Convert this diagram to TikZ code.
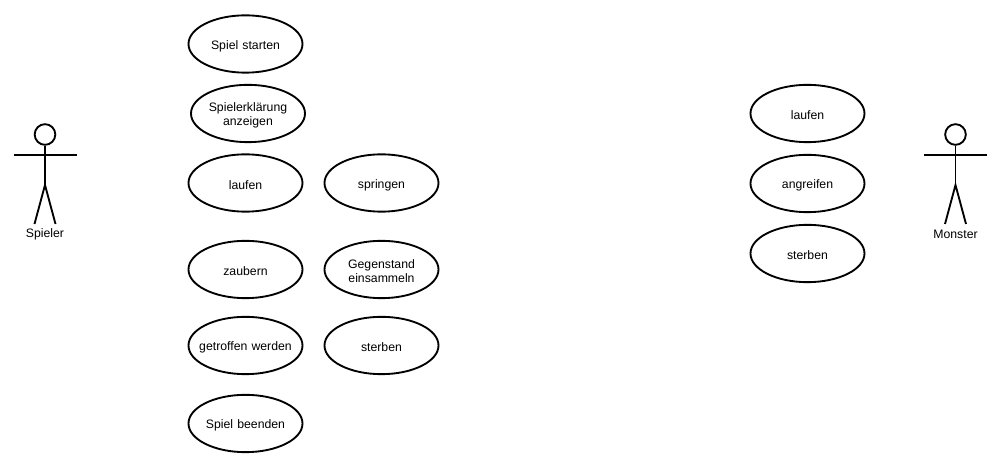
\documentclass[tikz,border=0pt]{standalone}
\usepackage{fontspec}
\setmainfont{Liberation Sans}
\usetikzlibrary{shapes.geometric}
\tikzset{
    usecase/.style={draw, ellipse, line width=1.4pt, minimum width=85.5pt, minimum height=43pt, inner xsep=-12pt, inner ysep=0pt, text width=80pt, align=center, font=\fontsize{9.2}{10.5}\selectfont, execute at begin node={\vskip -0.9pt\relax}},
    actorhead/.style={draw, circle, line width=1.4pt, minimum size=15.5pt, inner sep=0pt},
    actorline/.style={line width=1.4pt},
    actorname/.style={font=\fontsize{9.2}{10.5}\selectfont}
}
% stick figure: name, x of the body, text
\newcommand{\actorfigure}[3]{
    \node[actorhead] (#1Head) at (#2,134.5) {};
    \coordinate (#1Hip) at (#2,185);
    \coordinate (#1ArmL) at (#2-31.5,155);
    \coordinate (#1ArmR) at (#2+31.5,155);
    \coordinate (#1FootL) at (#2-10.5,224);
    \coordinate (#1FootR) at (#2+10.5,224);
    \draw[actorline] (#1Head) -- (#1Hip);
    \draw[actorline] (#1ArmL) -- (#1ArmR);
    \draw[actorline] (#1FootL) -- (#1Hip) -- (#1FootR);
    \node[actorname] (#1Name) at (#2,234.5) {#3};
}
\begin{document}
\begin{tikzpicture}[x=0.75pt, y=-0.75pt]
    \useasboundingbox (0,0) rectangle (1007,473);
    % actors
    \actorfigure{spieler}{45}{Spieler}
    \actorfigure{monster}{955.5}{Monster}
    % use cases of the player
    \node[usecase] (start) at (245.5,44) {Spiel starten};
    \node[usecase] (erklaerung) at (248,113.5) {Spielerklärung\\anzeigen};
    \node[usecase] (laufen) at (245.5,183) {laufen};
    \node[usecase] (springen) at (381.5,183) {springen};
    \node[usecase] (zaubern) at (245.5,269.5) {zaubern};
    \node[usecase] (gegenstand) at (381.5,269.5) {Gegenstand\\einsammeln};
    \node[usecase] (getroffen) at (245.5,345.5) {getroffen werden};
    \node[usecase] (sterben) at (381.5,345.5) {sterben};
    \node[usecase] (beenden) at (245.5,423.5) {Spiel beenden};
    % use cases of the monster
    \node[usecase] (mlaufen) at (807.5,113.5) {laufen};
    \node[usecase] (mangreifen) at (807.5,183.5) {angreifen};
    \node[usecase] (msterben) at (807.5,253.5) {sterben};
\end{tikzpicture}
\end{document}
